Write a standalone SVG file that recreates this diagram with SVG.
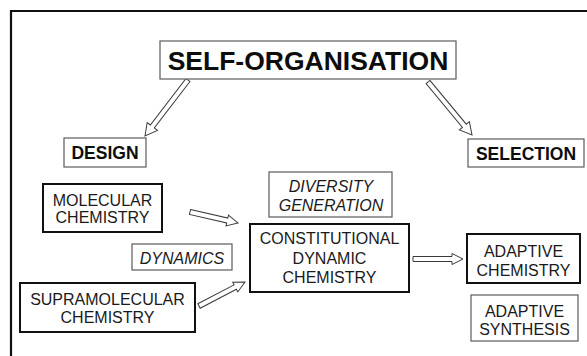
<svg xmlns="http://www.w3.org/2000/svg" width="587" height="356" viewBox="0 0 587 356">
  <style>
    text { font-family: "Liberation Sans", Arial, sans-serif; text-anchor: middle; fill: #1a1a1a; }
    .title { font-size: 26.5px; font-weight: bold; fill: #0d0d0d; }
    .head { font-size: 17.5px; font-weight: bold; fill: #0d0d0d; }
    .lbl { font-size: 16px; }
    .it { font-size: 16px; font-style: italic; }
    .thin { fill: #fff; stroke: #5a5a5a; stroke-width: 1.2; }
    .thick { fill: #fff; stroke: #111; stroke-width: 2; }
    .arrow { fill: #fff; stroke: #3a3a3a; stroke-width: 1; stroke-linejoin: miter; }
  </style>

  <!-- frame -->
  <path d="M11,356 V11 H587" fill="none" stroke="#111" stroke-width="2.2"/>

  <!-- connectors: hollow block arrows, drawn along +x then placed -->
  <g id="connectors">
    <polygon class="arrow" transform="translate(188,80) rotate(127.5)" points="0,-2.5 58.6,-2.5 58.6,-6.5 70.6,0 58.6,6.5 58.6,2.5 0,2.5"/>
    <polygon class="arrow" transform="translate(428,82) rotate(50.3)" points="0,-2.5 56.9,-2.5 56.9,-6.5 68.9,0 56.9,6.5 56.9,2.5 0,2.5"/>
    <polygon class="arrow" transform="translate(190,212) rotate(12.9)" points="0,-2.5 38.2,-2.5 38.2,-5.5 49.2,0 38.2,5.5 38.2,2.5 0,2.5"/>
    <polygon class="arrow" transform="translate(199,306) rotate(-27.6)" points="0,-2.5 40.9,-2.5 40.9,-5.5 51.9,0 40.9,5.5 40.9,2.5 0,2.5"/>
    <polygon class="arrow" transform="translate(413,259)" points="0,-2.5 39,-2.5 39,-5.5 50,0 39,5.5 39,2.5 0,2.5"/>
  </g>

  <g id="self-organisation">
    <rect class="thin" x="160" y="41" width="296" height="38"/>
    <text class="title" x="308" y="69.5">SELF-ORGANISATION</text>
  </g>

  <g id="design">
    <rect class="thin" x="64" y="138" width="82" height="29"/>
    <text class="head" x="105" y="159">DESIGN</text>
  </g>

  <g id="selection">
    <rect class="thin" x="468" y="139" width="116" height="28"/>
    <text class="head" x="526" y="159.5">SELECTION</text>
  </g>

  <g id="molecular-chemistry">
    <rect class="thick" x="43" y="184" width="119" height="48"/>
    <text class="lbl" x="102.5" y="206">MOLECULAR</text>
    <text class="lbl" x="102.5" y="223">CHEMISTRY</text>
  </g>

  <g id="diversity-generation">
    <rect class="thin" x="269" y="172" width="123" height="45"/>
    <text class="it" x="331" y="192">DIVERSITY</text>
    <text class="it" x="331" y="211">GENERATION</text>
  </g>

  <g id="dynamics">
    <rect class="thin" x="132" y="244" width="100" height="26"/>
    <text class="it" x="182" y="264">DYNAMICS</text>
  </g>

  <g id="constitutional-dynamic-chemistry">
    <rect class="thick" x="250" y="224" width="159" height="68"/>
    <text class="lbl" x="329.5" y="244">CONSTITUTIONAL</text>
    <text class="lbl" x="329.5" y="264">DYNAMIC</text>
    <text class="lbl" x="329.5" y="283">CHEMISTRY</text>
  </g>

  <g id="supramolecular-chemistry">
    <rect class="thick" x="20" y="283" width="175" height="49"/>
    <text class="lbl" x="107.5" y="305">SUPRAMOLECULAR</text>
    <text class="lbl" x="107.5" y="323">CHEMISTRY</text>
  </g>

  <g id="adaptive-chemistry">
    <rect class="thick" x="467" y="234" width="113" height="49"/>
    <text class="lbl" x="523.5" y="257">ADAPTIVE</text>
    <text class="lbl" x="523.5" y="276">CHEMISTRY</text>
  </g>

  <g id="adaptive-synthesis">
    <rect class="thin" x="471" y="295" width="107" height="46"/>
    <text class="lbl" x="524.5" y="317">ADAPTIVE</text>
    <text class="lbl" x="524.5" y="335">SYNTHESIS</text>
  </g>
</svg>
